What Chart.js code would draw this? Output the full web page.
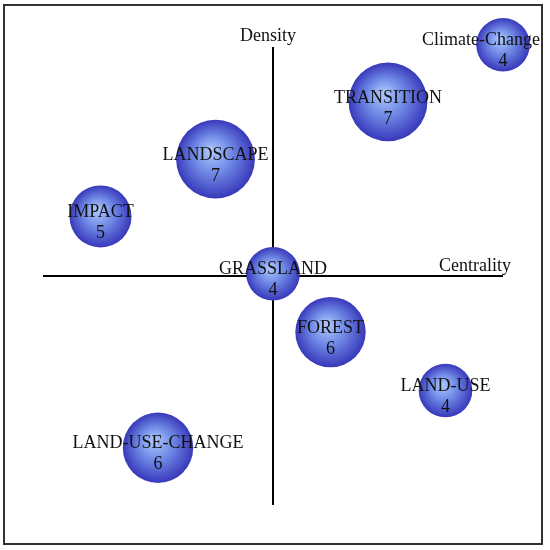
<!DOCTYPE html>
<html>
<head>
<meta charset="utf-8">
<script src="https://cdn.jsdelivr.net/npm/chart.js@4/dist/chart.umd.min.js"></script>
<style>
  body { margin: 0; background: #fff; }
  #wrap { position: relative; width: 550px; height: 550px; }
  #frame { position: absolute; left: 3px; top: 4px; width: 536px; height: 537px;
           border: 2px solid #333; pointer-events: none; }
  canvas { position: absolute; left: 0; top: 0; }
</style>
</head>
<body>
<div id="wrap">
  <canvas id="myChart" width="550" height="550"></canvas>
  <div id="frame"></div>
</div>
<script>
// themes on the strategic diagram
const themes = ['Climate-Change', 'TRANSITION', 'LANDSCAPE', 'IMPACT', 'GRASSLAND', 'FOREST', 'LAND-USE', 'LAND-USE-CHANGE'];
const centrality = [1.0, 0.5, -0.25, -0.75, 0.0, 0.25, 0.75, -0.5];
const density = [1.01, 0.76, 0.51, 0.26, 0.01, -0.245, -0.5, -0.75];
const counts = [4, 7, 7, 5, 4, 6, 4, 6];

const serif = '"Liberation Serif", "Times New Roman", serif';

function bubbleRadius(n) {
  return 4.2 * n + 10;
}

function GetBubbleFill(ctx) {
  const chart = ctx.chart;
  if (!chart.chartArea || !ctx.raw) return 'rgb(80, 90, 210)';
  const x = chart.scales.x.getPixelForValue(ctx.raw.x);
  const y = chart.scales.y.getPixelForValue(ctx.raw.y);
  const r = bubbleRadius(ctx.raw.n);
  const g = chart.ctx.createRadialGradient(x - r * 0.12, y - r * 0.22, r * 0.05, x, y, r);
  g.addColorStop(0, 'rgb(170, 195, 250)');
  g.addColorStop(0.45, 'rgb(112, 138, 230)');
  g.addColorStop(1, 'rgb(56, 56, 186)');
  return g;
}

var points = [];
for (var i = 0; i < themes.length; i++) {
  points.push({ x: centrality[i], y: density[i], n: counts[i], label: themes[i] });
}

const quadrantAxes = {
  id: 'quadrantAxes',
  beforeDatasetsDraw(chart) {
    const c = chart.ctx;
    const area = chart.chartArea;
    const x0 = chart.scales.x.getPixelForValue(0);
    const y0 = chart.scales.y.getPixelForValue(0);
    c.save();
    c.strokeStyle = '#000';
    c.lineWidth = 2;
    c.beginPath();
    c.moveTo(area.left, y0);
    c.lineTo(area.right, y0);
    c.moveTo(x0, area.top);
    c.lineTo(x0, area.bottom);
    c.stroke();
    c.fillStyle = '#111';
    c.font = '18px ' + serif;
    c.textAlign = 'center';
    c.textBaseline = 'alphabetic';
    c.fillText('Density', x0 - 5, area.top - 6);
    c.fillText('Centrality', area.right - 28, y0 - 5);
    c.restore();
  },
  afterDatasetsDraw(chart) {
    const c = chart.ctx;
    const meta = chart.getDatasetMeta(0);
    c.save();
    c.fillStyle = '#111';
    c.font = '18px ' + serif;
    c.textAlign = 'center';
    c.textBaseline = 'middle';
    meta.data.forEach((el, i) => {
      const p = points[i];
      var tx = el.x;
      const w = c.measureText(p.label).width;
      if (tx + w / 2 > chart.width - 10) tx = chart.width - 10 - w / 2;
      c.fillText(p.label, tx, el.y - 4);
      c.fillText(String(p.n), el.x, el.y + 17);
    });
    c.restore();
  }
};

const ctx = document.getElementById('myChart').getContext('2d');
const myChart = new Chart(ctx, {
  type: 'bubble',
  data: {
    datasets: [{
      label: 'Themes',
      data: points,
      backgroundColor: GetBubbleFill,
      borderWidth: 0,
      radius: (c) => c.raw ? bubbleRadius(c.raw.n) : 0,
      clip: false
    }]
  },
  options: {
    responsive: false,
    animation: false,
    layout: { padding: { left: 43, right: 47, top: 47, bottom: 45 } },
    plugins: {
      legend: { display: false },
      tooltip: { enabled: false }
    },
    scales: {
      x: { type: 'linear', min: -1, max: 1, display: false },
      y: { type: 'linear', min: -1, max: 1, display: false }
    }
  },
  plugins: [quadrantAxes]
});
</script>
</body>
</html>
